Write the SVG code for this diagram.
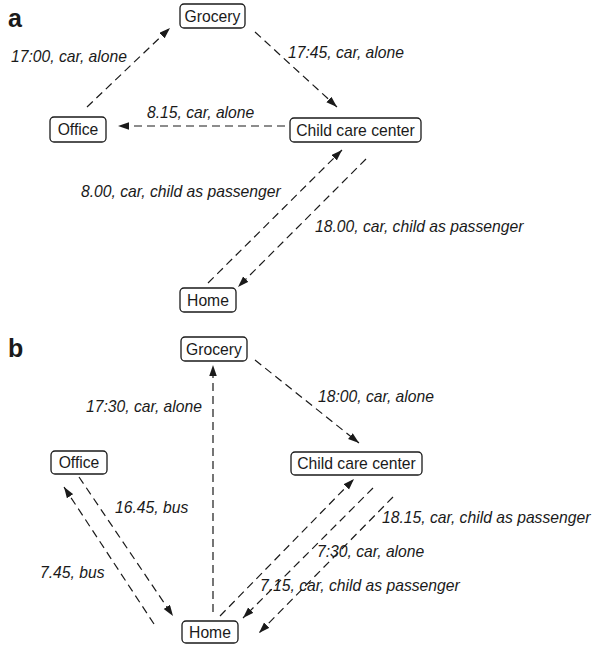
<svg xmlns="http://www.w3.org/2000/svg" width="599" height="645" viewBox="0 0 599 645">
<style>
  .box { fill: #ffffff; stroke: #1a1a1a; stroke-width: 1.3; }
  .nt { font-family: "Liberation Sans", Arial, sans-serif; font-size: 15.7px; fill: #1a1a1a; text-anchor: middle; }
  .lb { font-family: "Liberation Sans", Arial, sans-serif; font-size: 15.7px; font-style: italic; fill: #1a1a1a; }
  .pl { font-family: "Liberation Sans", Arial, sans-serif; font-size: 25px; font-weight: bold; fill: #1a1a1a; }
  .edge { fill: none; stroke: #1a1a1a; stroke-width: 1.2; stroke-dasharray: 8 5; marker-end: url(#ah); }
</style>
<defs>
  <marker id="ah" markerUnits="userSpaceOnUse" markerWidth="12" markerHeight="8" refX="11" refY="3.75" orient="auto">
    <path d="M0,0 L11,3.75 L0,7.5 z" fill="#1a1a1a"/>
  </marker>
</defs>
<rect width="599" height="645" fill="#ffffff"/>

<text class="pl" x="8" y="27">a</text>
<text class="pl" x="8" y="357">b</text>

<g id="connectors">
  <!-- panel a -->
  <line class="edge" x1="87" y1="107" x2="170" y2="28"/>
  <line class="edge" x1="255" y1="32" x2="337" y2="107"/>
  <line class="edge" x1="285" y1="126" x2="118" y2="126"/>
  <line class="edge" x1="208" y1="283" x2="342" y2="150"/>
  <line class="edge" x1="366" y1="159" x2="238" y2="287"/>
  <!-- panel b -->
  <line class="edge" x1="213" y1="612" x2="213" y2="365"/>
  <line class="edge" x1="255" y1="360" x2="359" y2="443"/>
  <line class="edge" x1="79" y1="477" x2="173" y2="616"/>
  <line class="edge" x1="154" y1="624" x2="64" y2="487"/>
  <line class="edge" x1="220" y1="616" x2="354" y2="479"/>
  <line class="edge" x1="373" y1="488" x2="243" y2="618"/>
  <line class="edge" x1="393" y1="497" x2="259" y2="633"/>
</g>

<g id="labels">
  <text class="lb" x="11" y="62">17:00, car, alone</text>
  <text class="lb" x="288" y="58">17:45, car, alone</text>
  <text class="lb" x="147" y="118">8.15, car, alone</text>
  <text class="lb" x="81" y="197">8.00, car, child as passenger</text>
  <text class="lb" x="315" y="232">18.00, car, child as passenger</text>
  <text class="lb" x="86" y="412">17:30, car, alone</text>
  <text class="lb" x="318" y="402">18:00, car, alone</text>
  <text class="lb" x="115" y="513">16.45, bus</text>
  <text class="lb" x="40" y="578">7.45, bus</text>
  <text class="lb" x="382" y="523">18.15, car, child as passenger</text>
  <text class="lb" x="317" y="557">7:30, car, alone</text>
  <text class="lb" x="260" y="591">7.15, car, child as passenger</text>
</g>

<g id="a-grocery"><rect class="box" x="180" y="4" width="65" height="24" rx="4"/><text class="nt" x="212.5" y="21.5">Grocery</text></g>
<g id="a-office"><rect class="box" x="50" y="117" width="56" height="25" rx="4"/><text class="nt" x="78" y="135">Office</text></g>
<g id="a-childcare"><rect class="box" x="290" y="118" width="131" height="24" rx="4"/><text class="nt" x="355.5" y="135.5">Child care center</text></g>
<g id="a-home"><rect class="box" x="180" y="288" width="56" height="24" rx="4"/><text class="nt" x="208" y="305.5">Home</text></g>

<g id="b-grocery"><rect class="box" x="181" y="337" width="66" height="24" rx="4"/><text class="nt" x="214" y="354.5">Grocery</text></g>
<g id="b-office"><rect class="box" x="51" y="451" width="56" height="23" rx="4"/><text class="nt" x="79" y="468">Office</text></g>
<g id="b-childcare"><rect class="box" x="291" y="452" width="131" height="23" rx="4"/><text class="nt" x="356.5" y="469">Child care center</text></g>
<g id="b-home"><rect class="box" x="182" y="621" width="56" height="22" rx="4"/><text class="nt" x="210" y="637.5">Home</text></g>
</svg>
